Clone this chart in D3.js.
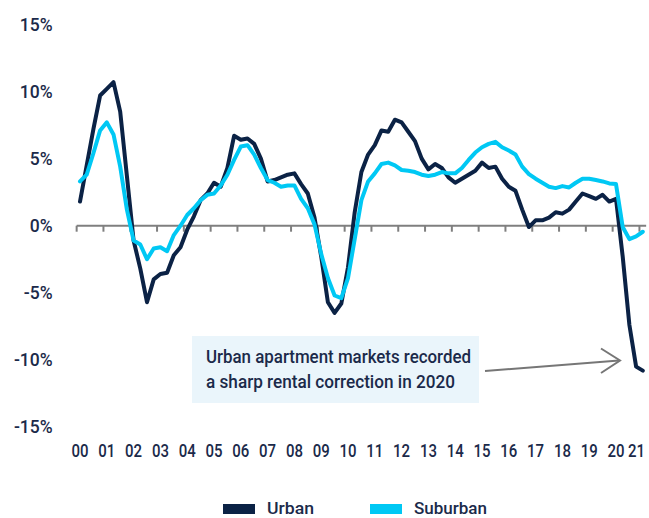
<!DOCTYPE html>
<html>
<head>
<meta charset="utf-8">
<script src="https://cdn.jsdelivr.net/npm/d3@7"></script>
<style>
  body { margin: 0; background: #fff; }
  text { font-family: Roboto, "Noto Sans", sans-serif; fill: #1b2a4a; }
</style>
</head>
<body>
<div id="chart"></div>
<script>
// year labels on the x axis, one per year, data is quarterly from 2000 Q1 to 2021 Q1
let yearLabels = ["00", "01", "02", "03", "04", "05", "06", "07", "08", "09", "10",
  "11", "12", "13", "14", "15", "16", "17", "18", "19", "20", "21"];

let quarters = [];
yearLabels.forEach(function (yr) {
  ["Q1", "Q2", "Q3", "Q4"].forEach(function (q) { quarters.push(yr + q); });
});
quarters = quarters.slice(0, 85);

// annual rent growth, %
let urban = [
  1.8, 4.5, 7.2, 9.7, 10.2, 10.7, 8.5, 3.7, -1.1, -3.2, -5.7, -4.0, -3.6, -3.5, -2.2, -1.6,
  -0.3, 0.7, 1.9, 2.4, 3.2, 2.9, 4.3, 6.7, 6.4, 6.5, 6.1, 5.0, 3.3, 3.4, 3.6, 3.8,
  3.9, 3.1, 2.4, 0.6, -2.3, -5.7, -6.5, -5.8, -3.1, 1.0, 4.0, 5.3, 6.0, 7.1, 7.0, 7.9,
  7.7, 7.0, 6.3, 5.0, 4.2, 4.6, 4.3, 3.6, 3.2, 3.5, 3.8, 4.1, 4.7, 4.3, 4.4, 3.5,
  2.9, 2.6, 1.2, -0.1, 0.4, 0.4, 0.6, 1.0, 0.9, 1.2, 1.8, 2.4, 2.2, 2.0, 2.3, 1.8,
  2.0, -2.3, -7.4, -10.5, -10.8
];
let suburban = [
  3.3, 3.8, 5.4, 7.1, 7.7, 6.8, 4.4, 1.2, -1.1, -1.4, -2.5, -1.7, -1.6, -1.9, -0.7, 0.0,
  0.8, 1.3, 1.9, 2.3, 2.4, 3.0, 3.8, 4.9, 5.9, 6.0, 5.3, 4.3, 3.4, 3.2, 2.9, 3.0,
  3.0, 2.0, 1.3, 0.1, -2.1, -3.9, -5.2, -5.4, -3.9, -1.0, 1.9, 3.3, 3.9, 4.6, 4.7, 4.5,
  4.15, 4.1, 4.0, 3.8, 3.7, 3.8, 4.0, 3.9, 3.9, 4.3, 4.9, 5.45, 5.85, 6.1, 6.25, 5.85,
  5.6, 5.3, 4.4, 3.85, 3.5, 3.2, 2.9, 2.8, 2.95, 2.85, 3.2, 3.5, 3.5, 3.4, 3.3, 3.15,
  3.1, -0.1, -1.0, -0.8, -0.45
];

let yTicks = [-15, -10, -5, 0, 5, 10, 15];
let seriesNames = ["Urban", "Suburban"];
let seriesColors = ["#0b2245", "#00c8f4"];

let margin = { top: 24.4, right: 3, bottom: 91, left: 76.65 },
  width = 649 - margin.left - margin.right,
  height = 518 - margin.top - margin.bottom;

let root = d3.select("#chart")
  .append("svg")
  .attr("width", 649)
  .attr("height", 518);

let svg = root.append("g")
  .attr("transform", "translate(" + margin.left + "," + margin.top + ")");

let x = d3.scaleBand().domain(quarters).range([0, 569.5]);
let y = d3.scaleLinear().domain([-15, 15]).range([402.6, 0]);

// y axis labels only
let yAxis = svg.append("g")
  .call(d3.axisLeft(y).tickValues(yTicks).tickFormat(function (d) { return d + "%"; })
    .tickSize(0).tickPadding(24));
yAxis.select(".domain").remove();
yAxis.selectAll("text")
  .style("font-family", "Roboto, sans-serif")
  .style("font-size", "17.5px")
  .style("font-weight", "500")
  .attr("fill", "#1b2a4a");

// zero line with a tick at each year start
svg.append("line")
  .attr("x1", 0).attr("x2", x.range()[1])
  .attr("y1", y(0)).attr("y2", y(0))
  .attr("stroke", "#7f7f7f").attr("stroke-width", 2);

svg.selectAll(".ytick")
  .data(yearLabels)
  .enter()
  .append("line")
  .attr("x1", function (d) { return x(d + "Q1"); })
  .attr("x2", function (d) { return x(d + "Q1"); })
  .attr("y1", y(0))
  .attr("y2", y(0) + 6)
  .attr("stroke", "#7f7f7f").attr("stroke-width", 2);

// keep the last label inside the frame
let maxLabelX = 649 - margin.left - 12.5;
svg.selectAll(".xlab")
  .data(yearLabels)
  .enter()
  .append("text")
  .attr("x", function (d) { return Math.min(x(d + "Q1") + x.bandwidth() / 2, maxLabelX) - 8.5; })
  .attr("y", 433)
  .attr("textLength", 17).attr("lengthAdjust", "spacingAndGlyphs")
  .style("font-size", "19px")
  .style("font-weight", "500")
  .text(function (d) { return d; });

let line = d3.line()
  .x(function (d, i) { return x(quarters[i]) + x.bandwidth() / 2; })
  .y(function (d) { return y(d); });

[urban, suburban].forEach(function (s, k) {
  svg.append("path")
    .datum(s)
    .attr("fill", "none")
    .attr("stroke", seriesColors[k])
    .attr("stroke-width", 4)
    .attr("stroke-linejoin", "round")
    .attr("stroke-linecap", "round")
    .attr("d", line);
});

// annotation
root.append("rect")
  .attr("x", 192).attr("y", 336)
  .attr("width", 287).attr("height", 67)
  .attr("fill", "#eaf5fb");

root.append("text")
  .attr("x", 206).attr("y", 363)
  .attr("textLength", 265).attr("lengthAdjust", "spacingAndGlyphs")
  .style("font-size", "18px").style("font-weight", "500")
  .text("Urban apartment markets recorded");

root.append("text")
  .attr("x", 206).attr("y", 388)
  .attr("textLength", 249).attr("lengthAdjust", "spacingAndGlyphs")
  .style("font-size", "18px").style("font-weight", "500")
  .text("a sharp rental correction in 2020");

root.append("line")
  .attr("x1", 485).attr("y1", 371).attr("x2", 619).attr("y2", 360.5)
  .attr("stroke", "#767676").attr("stroke-width", 2);
root.append("path")
  .attr("d", "M601,348.5 L620,360.5 L601,373")
  .attr("fill", "none")
  .attr("stroke", "#767676").attr("stroke-width", 2);

// legend
let legendX = [223, 370];
seriesNames.forEach(function (name, k) {
  root.append("rect")
    .attr("x", legendX[k]).attr("y", 504)
    .attr("width", 32).attr("height", 10)
    .attr("fill", seriesColors[k]);
  root.append("text")
    .attr("x", legendX[k] + 44).attr("y", 514)
    .attr("textLength", k === 0 ? 47 : 73).attr("lengthAdjust", "spacingAndGlyphs")
    .style("font-size", "17px").style("font-weight", "500")
    .text(name);
});
</script>
</body>
</html>
